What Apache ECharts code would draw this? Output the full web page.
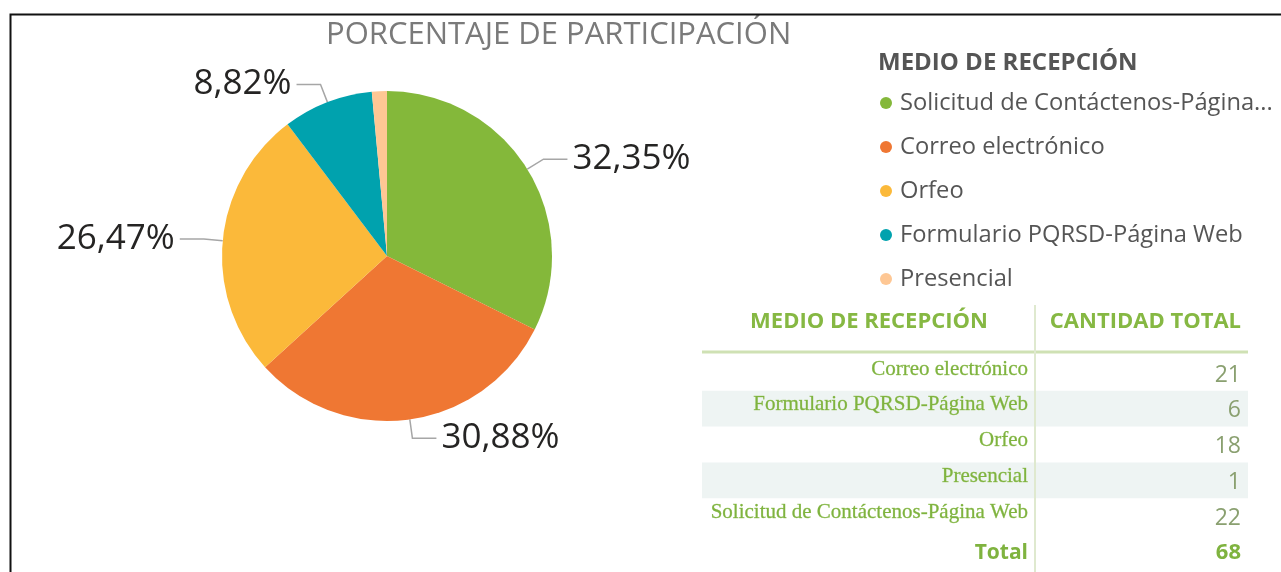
<!DOCTYPE html>
<html>
<head>
<meta charset="utf-8">
<script src="https://cdn.jsdelivr.net/npm/echarts@6/dist/echarts.min.js"></script>
<style>
  html, body { margin: 0; padding: 0; background: #ffffff; }
  #chart { width: 1281px; height: 572px; }
</style>
</head>
<body>
<div id="chart"></div>
<script>
// ---- data ----
const chartTitle = 'PORCENTAJE DE PARTICIPACIÓN';
const legendTitle = 'MEDIO DE RECEPCIÓN';
const categories = ['Solicitud de Contáctenos-Página Web', 'Correo electrónico', 'Orfeo', 'Formulario PQRSD-Página Web', 'Presencial'];
const values = [22, 21, 18, 6, 1];
const tableHeaders = ['MEDIO DE RECEPCIÓN', 'CANTIDAD TOTAL'];
const tableOrder = ['Correo electrónico', 'Formulario PQRSD-Página Web', 'Orfeo', 'Presencial', 'Solicitud de Contáctenos-Página Web'];
const totalLabel = 'Total';

// ---- build ----
const palette = ['#84b83a', '#ef7733', '#fbb93a', '#00a2ae', '#fec794'];
const total = values.reduce((a, b) => a + b, 0);
const pct = v => (v / total * 100).toFixed(2).replace('.', ',') + '%';

const UI = '"Open Sans", "Noto Sans", sans-serif';
const SERIF = '"Liberation Serif", "DejaVu Serif", serif';

const graphics = [];
// outer frame (only left and top visible)
graphics.push({ type: 'rect', left: 8, top: 12, shape: { width: 1400, height: 700 }, style: { fill: 'none', stroke: '#111', lineWidth: 2 }, silent: true, z: 100 });

// table geometry
const tX0 = 702, tX1 = 1248, sepX = 1035, nameRight = 1028, numRight = 1241;
const headY = 322, lineY = 352, rowTop = 355, rowH = 35.8;
tableOrder.forEach((name, i) => {
  const y0 = rowTop + i * rowH;
  if (i % 2 === 1) {
    graphics.push({ type: 'rect', shape: { x: tX0, y: y0, width: tX1 - tX0, height: rowH }, style: { fill: '#eef4f3' }, silent: true, z: 1 });
  }
  graphics.push({ type: 'text', x: nameRight, y: y0 + 14, style: { text: name, font: '21px ' + SERIF, fill: '#7fb33f', stroke: '#a9cf7a', lineWidth: 0.4, align: 'right', verticalAlign: 'middle' }, z: 5 });
  graphics.push({ type: 'text', x: numRight, y: y0 + 20, style: { text: String(values[categories.indexOf(name)]), font: '23px ' + UI, fill: '#8aa070', align: 'right', verticalAlign: 'middle' }, z: 5 });
});
const totY = rowTop + tableOrder.length * rowH + 19;
graphics.push({ type: 'text', x: nameRight, y: totY, style: { text: totalLabel, font: 'bold 21px ' + UI, fill: '#7fb33f', align: 'right', verticalAlign: 'middle' }, z: 5 });
graphics.push({ type: 'text', x: numRight, y: totY, style: { text: String(total), font: 'bold 22px ' + UI, fill: '#7fb33f', align: 'right', verticalAlign: 'middle' }, z: 5 });
// header
graphics.push({ type: 'text', x: 869, y: headY, style: { text: tableHeaders[0], font: 'bold 22px ' + UI, fill: '#86b843', align: 'center', verticalAlign: 'middle' }, z: 5 });
graphics.push({ type: 'text', x: numRight, y: headY, style: { text: tableHeaders[1], font: 'bold 22px ' + UI, fill: '#86b843', align: 'right', verticalAlign: 'middle' }, z: 5 });
graphics.push({ type: 'line', shape: { x1: tX0, y1: lineY, x2: tX1, y2: lineY }, style: { stroke: '#cfe1b4', lineWidth: 3 }, silent: true, z: 4 });
graphics.push({ type: 'line', shape: { x1: sepX, y1: 305, x2: sepX, y2: 572 }, style: { stroke: '#dfe9cf', lineWidth: 2 }, silent: true, z: 6 });

const pieData = categories.map((c, i) => {
  const d = { name: c, value: values[i] };
  if (values[i] / total < 0.05) { d.label = { show: false }; d.labelLine = { show: false }; }
  return d;
});

const option = {
  animation: false,
  backgroundColor: '#ffffff',
  color: palette,
  title: [
    { text: chartTitle, left: 321, top: 15, textStyle: { fontFamily: UI, fontSize: 31, fontWeight: 'normal', color: '#7a7a7a' } },
    { text: legendTitle, left: 873, top: 46, textStyle: { fontFamily: UI, fontSize: 24, fontWeight: 'bold', color: '#555555' } }
  ],
  legend: {
    orient: 'vertical',
    left: 875,
    top: 85,
    icon: 'circle',
    itemWidth: 12,
    itemHeight: 12,
    itemGap: 18,
    data: categories,
    textStyle: { fontFamily: UI, fontSize: 23.7, color: '#555555', lineHeight: 26, width: 385, overflow: 'truncate', ellipsis: '...', padding: [0, 0, 0, 3] }
  },
  series: [{
    type: 'pie',
    center: [387, 256],
    radius: 165,
    startAngle: 90,
    clockwise: true,
    avoidLabelOverlap: true,
    data: pieData,
    itemStyle: { borderColor: '#ffffff', borderWidth: 0 },
    label: {
      show: true,
      position: 'outside',
      formatter: p => pct(p.value),
      fontFamily: UI,
      fontSize: 35,
      color: '#252423',
      distanceToLabelLine: 5
    },
    labelLine: {
      show: true,
      length: 19,
      length2: 24,
      lineStyle: { color: '#a6a6a6', width: 1.5 }
    },
    emphasis: { disabled: true }
  }],
  graphic: graphics
};

const chart = echarts.init(document.getElementById('chart'), null, { renderer: 'canvas' });
chart.setOption(option);
</script>
</body>
</html>
